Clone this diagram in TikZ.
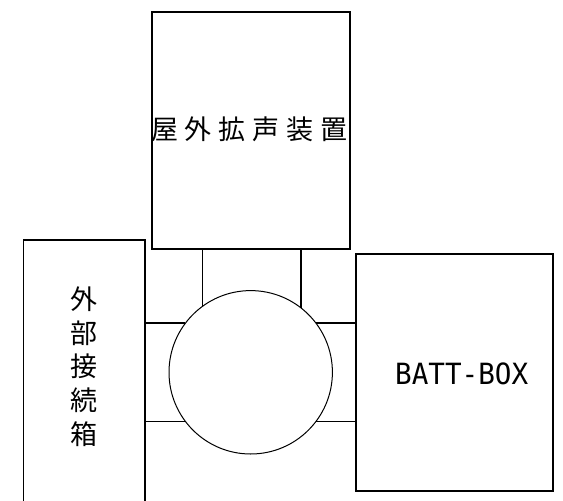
\documentclass[tikz,border=0pt]{standalone}
\usepackage{fontspec}
\usepackage{graphicx}
\setmainfont{Noto Sans CJK JP}
\newfontfamily\latinmono{DejaVu Sans Mono}
\tikzset{
  unitbox/.style={draw=black, line width=1.5pt, inner sep=0pt, outer sep=0pt, rectangle},
  hub/.style={draw=black, line width=1pt, circle, inner sep=0pt, outer sep=0pt, minimum size=163.4pt},
  wire/.style={draw=black, line width=1.3pt},
  cjklabel/.style={inner sep=0pt, font=\fontsize{27}{33.75}\selectfont, align=center}
}
\begin{document}
\begin{tikzpicture}[x=1pt,y=-1pt]
\useasboundingbox (0,0) rectangle (563,501);
\fill[white] (0,0) rectangle (563,501);
% boxes
\node[unitbox, minimum width=198pt, minimum height=237pt] (top) at (251,130.5) {};
\node[unitbox, minimum width=121.5pt, minimum height=280pt] (left) at (84.25,380) {};
\node[unitbox, minimum width=197pt, minimum height=237pt] (right) at (454.5,372.5) {};
\node[hub] (c) at (250.7,372.3) {};
% labels
\node[cjklabel] (toplabel) at (249.5,129) {屋\hspace{7pt}外\hspace{7pt}拡\hspace{7pt}声\hspace{7pt}装\hspace{7pt}置};
\node[cjklabel] (leftlabel) at (84,366.7) {外\\部\\接\\続\\箱};
\node[inner sep=0pt] (rightlabel) at (461.7,374.2) {\resizebox{133pt}{21.7pt}{\latinmono BATT-BOX}};
% connectors
\draw[wire] (c.126.6) -- (c.126.6 |- top.south);
\draw[wire] (c.52.9) -- (c.52.9 |- top.south);
\draw[wire] (c.143) -- (c.143 -| left.east);
\draw[wire] (c.217) -- (c.217 -| left.east);
\draw[wire] (c.37) -- (c.37 -| right.west);
\draw[wire] (c.-37) -- (c.-37 -| right.west);
\end{tikzpicture}
\end{document}
